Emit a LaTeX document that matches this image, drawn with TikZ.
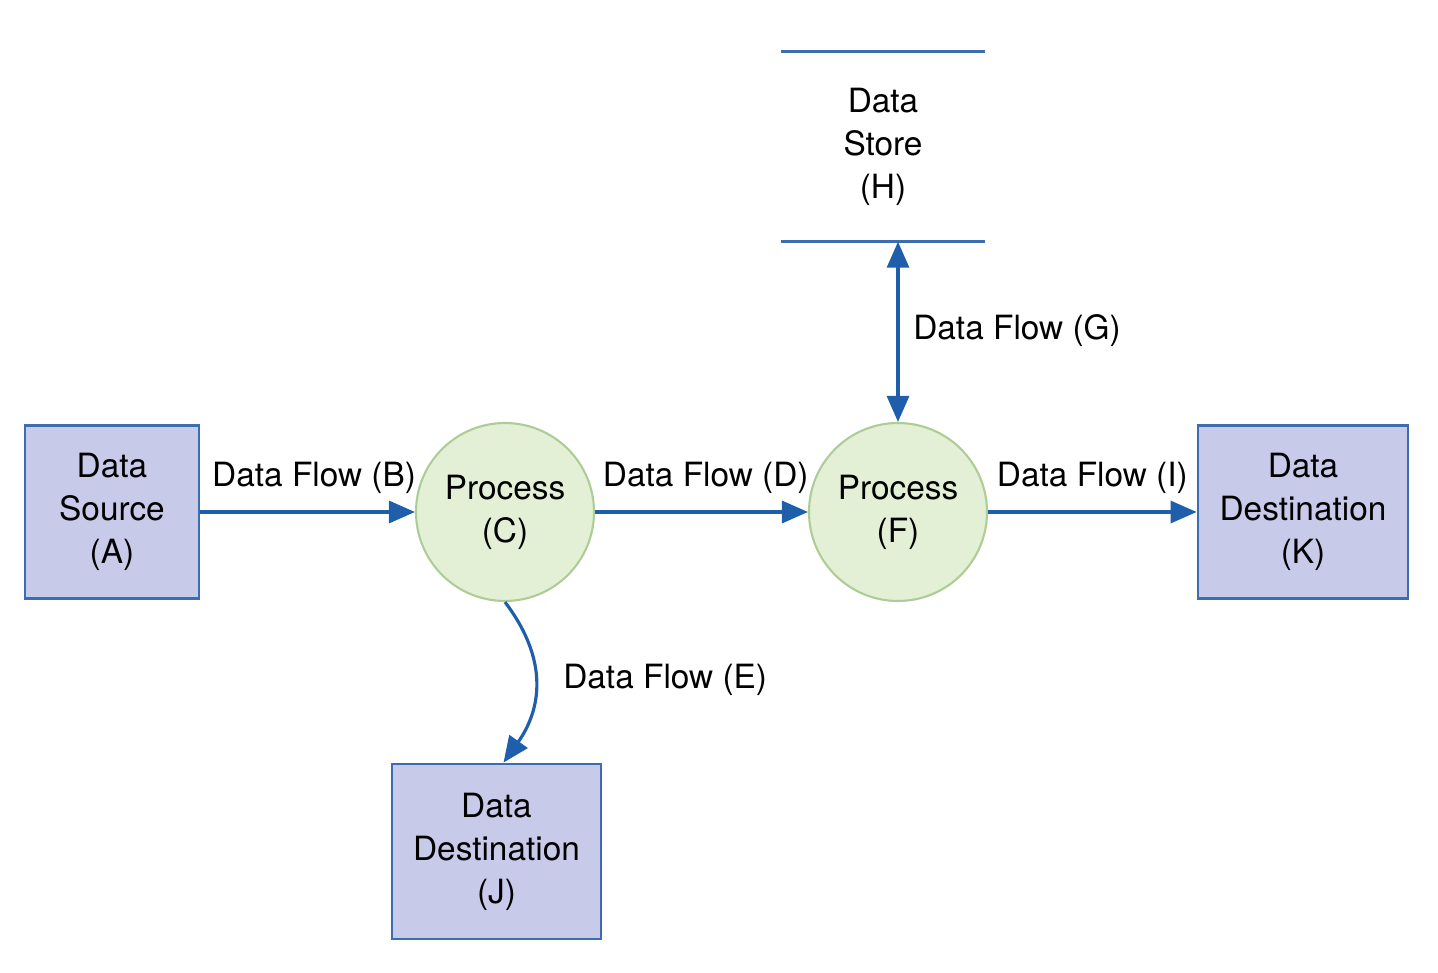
\documentclass[tikz,border=0pt]{standalone}
\usepackage{fontspec}
\setmainfont{TeX Gyre Heros}
\usetikzlibrary{arrows.meta}
\definecolor{boxfill}{HTML}{C8CAEA}
\definecolor{boxline}{HTML}{3B6DAF}
\definecolor{procfill}{HTML}{E4F0D6}
\definecolor{procline}{HTML}{AECD96}
\definecolor{flowblue}{HTML}{1E5EAA}
\tikzset{
  entity/.style={draw=boxline,line width=0.8pt,fill=boxfill,align=center,minimum height=1.73cm},
  process/.style={circle,draw=procline,line width=0.6pt,fill=procfill,align=center,minimum size=1.78cm},
  store/.style={align=center,minimum width=2.02cm,minimum height=1.89cm},
  flow/.style={draw=flowblue,line width=0.9pt,-{Triangle[length=0.26cm,width=0.22cm]}},
  flowlabel/.style={font=\fontsize{9.5}{12}\selectfont,yshift=0.05cm}
}
\begin{document}
\begin{tikzpicture}[every node/.append style={font=\fontsize{9.5}{12.2}\selectfont}]
\useasboundingbox (0,0) rectangle (14.38,9.72);
\node[entity,minimum width=1.74cm] (srcA) at (1.12,4.60) {Data\\Source\\(A)};
\node[process] (procC) at (5.05,4.60) {Process\\(C)};
\node[process] (procF) at (8.98,4.60) {Process\\(F)};
\node[entity,minimum width=2.10cm] (destK) at (13.03,4.60) {Data\\Destination\\(K)};
\node[entity,minimum width=2.09cm,minimum height=1.75cm] (destJ) at (4.965,1.205) {Data\\Destination\\(J)};
\node[store] (storeH) at (8.83,8.255) {Data\\Store\\(H)};
\draw[boxline,line width=0.9pt] (storeH.north west) -- (storeH.north east);
\draw[boxline,line width=0.9pt] (storeH.south west) -- (storeH.south east);
% flows
\draw[flow] (srcA) -- node[flowlabel,above,pos=0.53] {Data Flow (B)} (procC);
\draw[flow] (procC) -- node[flowlabel,above,pos=0.52] {Data Flow (D)} (procF);
\draw[flow] (procF) -- node[flowlabel,above] {Data Flow (I)} (destK);
\draw[flow,{Triangle[length=0.26cm,width=0.22cm]}-{Triangle[length=0.26cm,width=0.22cm]}] (procF.north) -- node[flowlabel,right,xshift=0.02cm,yshift=-0.04cm] {Data Flow (G)} (procF.north |- storeH.south);
\draw[flow] (procC.south) .. controls +(0.5,-0.66) and +(0.32,0.45) .. node[flowlabel,right,xshift=0.15cm,yshift=0.05cm] {Data Flow (E)} ([xshift=0.07cm]destJ.north);
\end{tikzpicture}
\end{document}
